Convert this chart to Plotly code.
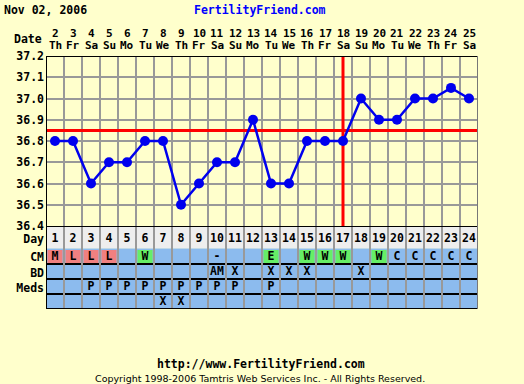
import plotly.graph_objects as go

# ---------------- data ----------------
days = list(range(1, 25))
dates = list(range(2, 26))
weekdays = ["Th", "Fr", "Sa", "Su", "Mo", "Tu", "We",
            "Th", "Fr", "Sa", "Su", "Mo", "Tu", "We",
            "Th", "Fr", "Sa", "Su", "Mo", "Tu", "We",
            "Th", "Fr", "Sa"]
temps = [36.8, 36.8, 36.6, 36.7, 36.7, 36.8, 36.8, 36.5, 36.6, 36.7, 36.7, 36.9,
         36.6, 36.6, 36.8, 36.8, 36.8, 37.0, 36.9, 36.9, 37.0, 37.0, 37.05, 37.0]
temp_ticks = [36.4, 36.5, 36.6, 36.7, 36.8, 36.9, 37.0, 37.1, 37.2]
coverline = 36.85
ovulation_day = 17

cm = ["M", "L", "L", "L", "", "W", "", "", "", "-", "", "", "E", "", "W", "W",
      "W", "", "W", "C", "C", "C", "C", "C"]
bd = ["", "", "", "", "", "", "", "", "", "AM", "X", "", "X", "X", "X", "",
      "", "X", "", "", "", "", "", ""]
meds = ["", "", "P", "P", "P", "P", "P", "P", "P", "P", "P", "", "P", "", "", "",
        "", "", "", "", "", "", "", ""]
extra = ["", "", "", "", "", "", "X", "X", "", "", "", "", "", "", "", "",
         "", "", "", "", "", "", "", ""]
row_labels = ["Day", "CM", "BD", "Meds", ""]
title_date = "Nov 02, 2006"
site = "FertilityFriend.com"
footer_url = "http://www.FertilityFriend.com"
copyright_text = "Copyright 1998-2006 Tamtris Web Services Inc. - All Rights Reserved."

# ---------------- style / layout constants ----------------
W, H = 524, 384
BG = "#FFFFCC"
GRID = "#999999"
TBL = "#8CBBEE"
DAYBG = "#EEEEEE"
PINK = "#F08080"
GREEN = "#66EE66"
LINEBLUE = "#0000EE"
FONT = "DejaVu Sans Mono"
FS = 11.5
cm_colors = {"M": PINK, "L": PINK, "W": GREEN, "E": GREEN}

PL, PR = 46, 478            # plot left/right px
PT, PB = 56, 226            # temp plot top/bottom px
TB = 309                    # table bottom px
row_b = [0, 22.5, 38, 53.3, 68, 83]    # table row boundaries (table units = px)
row_c = [13, 31, 46.5, 61.5, 76]       # text baselines within rows

def py(px):
    return 1 - px / H

def pxx(px):
    return px / W

x0, x1 = days[0] - 0.5, days[-1] + 0.5

fig = go.Figure()

# coverline and ovulation line
fig.add_trace(go.Scatter(x=[x0, x1], y=[coverline, coverline], mode="lines",
                         line=dict(color="#FF0000", width=3), hoverinfo="skip",
                         xaxis="x", yaxis="y"))
fig.add_trace(go.Scatter(x=[ovulation_day, ovulation_day],
                         y=[temp_ticks[0], temp_ticks[-1]], mode="lines",
                         line=dict(color="#FF0000", width=3), hoverinfo="skip",
                         xaxis="x", yaxis="y"))
# temperatures
fig.add_trace(go.Scatter(x=days, y=temps, mode="lines+markers",
                         line=dict(color=LINEBLUE, width=2.5),
                         marker=dict(color=LINEBLUE, size=10),
                         xaxis="x", yaxis="y"))

# table texts
for ri, row in enumerate([[str(d) for d in days], cm, bd, meds, extra]):
    fig.add_trace(go.Scatter(x=days, y=[row_c[ri]] * len(days), text=row,
                             mode="text", xaxis="x", yaxis="y2",
                             textfont=dict(family=FONT, size=FS, color="black",
                                           weight="bold"),
                             hoverinfo="skip"))

shapes = []
# table backgrounds
shapes.append(dict(type="rect", xref="x", yref="y2", x0=x0, x1=x1, y0=row_b[0],
                   y1=row_b[1], fillcolor=DAYBG, line=dict(width=0), layer="below"))
shapes.append(dict(type="rect", xref="x", yref="y2", x0=x0, x1=x1, y0=row_b[1],
                   y1=row_b[-1], fillcolor=TBL, line=dict(width=0), layer="below"))
for d, t in zip(days, cm):
    if t in cm_colors:
        shapes.append(dict(type="rect", xref="x", yref="y2", x0=d - 0.42, x1=d + 0.42,
                           y0=row_b[1] + 1.5, y1=row_b[2] - 1,
                           fillcolor=cm_colors[t], line=dict(width=0), layer="below"))
# borders
blk = dict(color="black", width=2)
shapes += [
    dict(type="line", xref="x", yref="y", x0=x0, x1=x1, y0=temp_ticks[-1], y1=temp_ticks[-1], line=blk),
    dict(type="line", xref="x", yref="y", x0=x0, x1=x0, y0=temp_ticks[0], y1=temp_ticks[-1], line=blk),
    dict(type="line", xref="x", yref="y2", x0=x0, x1=x1, y0=row_b[0], y1=row_b[0], line=blk),
    dict(type="line", xref="x", yref="y2", x0=x0, x1=x1, y0=row_b[-1], y1=row_b[-1], line=blk),
    dict(type="line", xref="x", yref="y2", x0=x0, x1=x0, y0=row_b[0], y1=row_b[-1], line=blk),
    dict(type="line", xref="x", yref="y2", x0=x1, x1=x1, y0=row_b[0], y1=row_b[-1],
         line=dict(color="#777777", width=2)),
    dict(type="line", xref="x", yref="y", x0=x1, x1=x1, y0=temp_ticks[0], y1=temp_ticks[-1],
         line=dict(color="#777777", width=2)),
]

ann = []
bold = dict(family=FONT, size=FS, color="black", weight="bold")
hdr = dict(family=FONT, size=11, color="black", weight="bold")
for d, dt, wd in zip(days, dates, weekdays):
    ann.append(dict(x=d, y=py(33), xref="x", yref="paper", text=str(dt),
                    showarrow=False, font=hdr, xanchor="center", yanchor="middle",
                    borderpad=0))
    ann.append(dict(x=d, y=py(46), xref="x", yref="paper", text=wd,
                    showarrow=False, font=hdr, xanchor="center", yanchor="middle",
                    borderpad=0))
ann.append(dict(x=pxx(44), y=py(39), xref="paper", yref="paper", text="Date",
                showarrow=False, font=bold, xanchor="right", yanchor="middle"))
ann.append(dict(x=pxx(2), y=py(10), xref="paper", yref="paper", text=title_date,
                showarrow=False, font=bold, xanchor="left", yanchor="middle"))
ann.append(dict(x=pxx(260), y=py(10), xref="paper", yref="paper", text=site,
                showarrow=False, font=dict(family=FONT, size=FS, color="#0000FF", weight="bold"),
                xanchor="center", yanchor="middle"))
ann.append(dict(x=pxx(261), y=py(364), xref="paper", yref="paper", text=footer_url,
                showarrow=False, font=bold, xanchor="center", yanchor="middle"))
ann.append(dict(x=pxx(260), y=py(378.5), xref="paper", yref="paper", text=copyright_text,
                showarrow=False, font=dict(family="DejaVu Sans", size=9.5, color="black"),
                xanchor="center", yanchor="middle", borderpad=0))

tickfont = dict(family=FONT, size=FS, color="black", weight="bold")
fig.update_layout(
    width=W, height=H, margin=dict(l=0, r=0, t=0, b=0, autoexpand=False),
    paper_bgcolor=BG, plot_bgcolor=BG, showlegend=False, hovermode=False,
    font=dict(family=FONT, size=FS, color="black"),
    xaxis=dict(domain=[pxx(PL), pxx(PR)], range=[x0, x1], anchor="y",
               tickmode="array", tickvals=[d + 0.5 for d in days[:-1]],
               showticklabels=False, ticks="", showgrid=True, gridcolor=GRID,
               gridwidth=2, zeroline=False, showline=False, fixedrange=True,
               automargin=False),
    yaxis=dict(domain=[py(PB), py(PT)], range=[temp_ticks[0], temp_ticks[-1]],
               anchor="x", tickmode="array", tickvals=temp_ticks,
               ticktext=[f"{t:.1f}" for t in temp_ticks], tickfont=tickfont,
               ticks="", showgrid=True, gridcolor=GRID, gridwidth=2,
               zeroline=False, showline=False, ticklabelstandoff=1, automargin=False),
    yaxis3=dict(overlaying="y", side="right", anchor="x",
                range=[temp_ticks[0], temp_ticks[-1]], tickmode="array",
                tickvals=temp_ticks, ticktext=[f"{t:.1f}" for t in temp_ticks],
                tickfont=tickfont, ticks="", showgrid=False, zeroline=False,
                showline=False, ticklabelstandoff=1, automargin=False),
    yaxis2=dict(domain=[py(TB), py(PB)], range=[row_b[-1], row_b[0]], anchor="x",
                tickmode="array", tickvals=row_c[:4], ticktext=row_labels[:4],
                tickfont=tickfont, ticks="", showgrid=False, zeroline=False,
                showline=False, ticklabelstandoff=1, automargin=False,
                minor=dict(tickmode="array", tickvals=row_b[2:5], showgrid=True,
                           gridcolor="black", gridwidth=2, ticks="")),
    yaxis4=dict(overlaying="y2", side="right", anchor="x",
                range=[row_b[-1], row_b[0]], tickmode="array",
                tickvals=row_c[:4], ticktext=row_labels[:4], tickfont=tickfont,
                ticks="", showgrid=False, zeroline=False, showline=False,
                ticklabelstandoff=1, automargin=False),
    shapes=shapes, annotations=ann,
)

fig.write_html(
    "out.html",
    config={"displayModeBar": False, "staticPlot": True},
    post_script="document.body.style.margin='0';document.body.style.overflow='hidden';",
)
